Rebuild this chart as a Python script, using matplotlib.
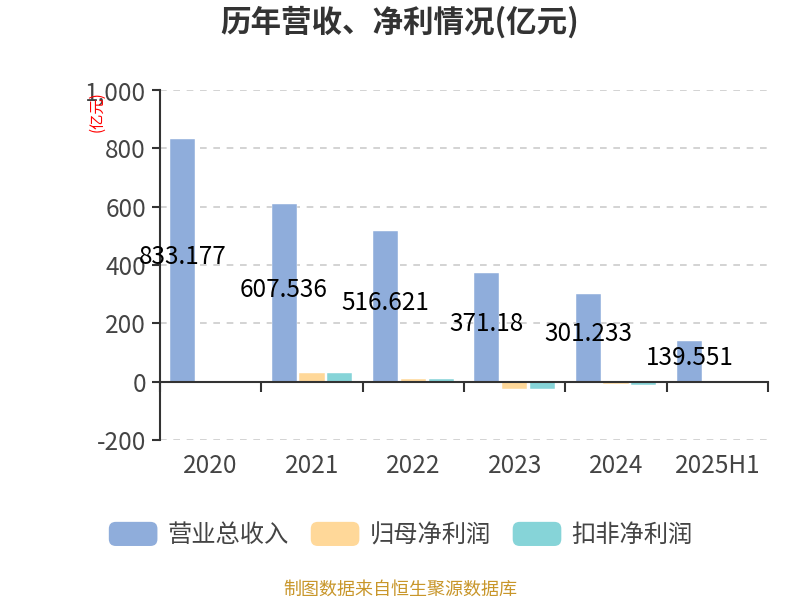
import matplotlib.pyplot as plt
import numpy as np
from matplotlib.patches import FancyBboxPatch
from matplotlib.legend_handler import HandlerPatch
from matplotlib.ticker import FuncFormatter

plt.rcParams['font.family'] = ['Noto Sans CJK SC', 'DejaVu Sans']

years = ["2020", "2021", "2022", "2023", "2024", "2025H1"]
revenue = [833.177, 607.536, 516.621, 371.18, 301.233, 139.551]
net_profit = [1.2, 30.5, 9.0, -25.0, -9.0, -1.5]
deducted_profit = [0.0, 29.5, 8.0, -26.0, -10.0, -2.0]

c_blue = "#8FADDB"
c_orange = "#FFD899"
c_teal = "#86D4D8"
dark = "#333333"


class RoundHandler(HandlerPatch):
    def create_artists(self, legend, orig_handle, xdescent, ydescent,
                       width, height, fontsize, trans):
        p = FancyBboxPatch((-xdescent, -ydescent), width, height,
                           boxstyle="round,pad=0,rounding_size=5",
                           facecolor=orig_handle.get_facecolor(),
                           edgecolor="none", transform=trans)
        return [p]


fig = plt.figure(figsize=(8, 6), dpi=100)
ax = fig.add_axes([0.2, 1 - 440 / 600, 0.76, 350 / 600])

x = np.arange(len(years))
w = 0.247
off = 0.276
b1 = ax.bar(x - off, revenue, w, color=c_blue, edgecolor="white", linewidth=0.3, label="营业总收入", zorder=3)
b2 = ax.bar(x, net_profit, w, color=c_orange, edgecolor="white", linewidth=0.3, label="归母净利润", zorder=3)
b3 = ax.bar(x + off, deducted_profit, w, color=c_teal, edgecolor="white", linewidth=0.3, label="扣非净利润", zorder=3)

for xi, v in zip(x, revenue):
    ax.text(xi - off, v / 2 + 12, f"{v:g}", ha="center", va="center",
            fontsize=17.5, color="black", zorder=5)

ax.set_xlim(-0.5, len(years) - 0.5)
ax.set_ylim(-200, 1000)
ax.set_yticks(np.arange(-200, 1001, 200))
ax.yaxis.set_major_formatter(FuncFormatter(lambda v, p: f"{int(v):,}"))
ax.tick_params(axis="y", labelsize=17.5, labelcolor="#444444", color=dark,
               length=6, width=1.5, pad=4)

for yv in [-200, 200, 400, 600, 800, 1000]:
    ax.axhline(yv, color="#cccccc", linestyle=(0, (4, 4)), linewidth=1.2, zorder=1)

for s in ["top", "right"]:
    ax.spines[s].set_visible(False)
ax.spines["left"].set_color(dark)
ax.spines["left"].set_linewidth(1.5)
ax.spines["bottom"].set_position(("data", 0))
ax.spines["bottom"].set_color(dark)
ax.spines["bottom"].set_linewidth(1.5)
ax.spines["bottom"].set_zorder(4)

ax.set_xticks(np.arange(-0.5, len(years), 1.0))
ax.set_xticklabels([])
ax.tick_params(axis="x", color=dark, length=7, width=1.5, direction="out")

for xi, lab in zip(x, years):
    ax.text(xi, -0.075, lab, transform=ax.get_xaxis_transform(), ha="center",
            va="center", fontsize=17.5, color="#444444")

ax.text(-0.104, 0.995, "(亿元)", transform=ax.transAxes, rotation=90,
        ha="center", va="top", fontsize=11, color="red")

fig.text(0.5, 0.962, "历年营收、净利情况(亿元)", ha="center", va="center",
         fontsize=22, fontweight="bold", color=dark)

handles = [b1.patches[0], b2.patches[0], b3.patches[0]]
leg = fig.legend(handles=handles, labels=["营业总收入", "归母净利润", "扣非净利润"],
                 loc="center", bbox_to_anchor=(0.501, 1 - 535 / 600),
                 ncol=3, frameon=False, fontsize=17.5, handlelength=2.0, handleheight=1.15,
                 handletextpad=0.42, columnspacing=0.9,
                 handler_map={type(b1.patches[0]): RoundHandler()})
for t in leg.get_texts():
    t.set_color("#444444")

fig.text(0.5, 1 - 590 / 600, "制图数据来自恒生聚源数据库", ha="center", va="center",
         fontsize=13, color="#C8962A")

fig.savefig("out.png", dpi=100)
